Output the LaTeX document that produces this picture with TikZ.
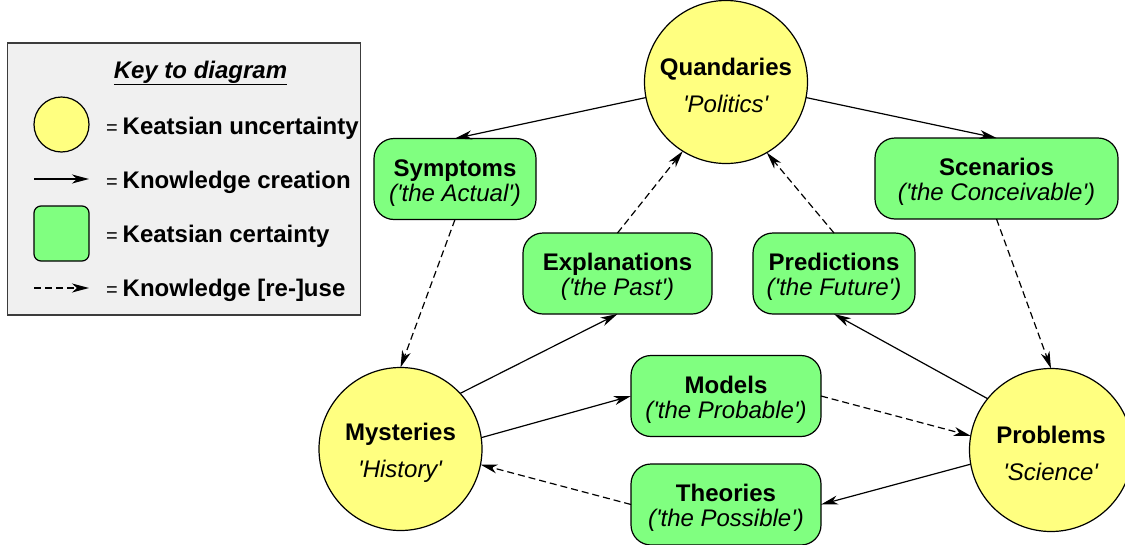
\documentclass[tikz,border=0pt]{standalone}
\usepackage{fontspec}
\setmainfont{Liberation Sans}[Ligatures=TeXOff]
\usetikzlibrary{arrows.meta}
\definecolor{qyellow}{RGB}{255,255,128}
\definecolor{qgreen}{RGB}{128,255,128}
\definecolor{keygray}{RGB}{240,240,240}
\definecolor{keyborder}{RGB}{60,60,60}
\newcommand\keyeq{{\fontsize{20}{20}\selectfont=}\hspace{5pt}}
\newcommand\circtext[2]{\rule{0pt}{25pt}\textbf{#1}\\[12pt]\textit{#2}}
\newcommand\boxtext[2]{\rule{0pt}{24pt}\textbf{#1}\\\textit{#2}}
\begin{document}
\begin{tikzpicture}[x=1pt,y=-1pt,
  every node/.style={inner sep=0pt, outer sep=0pt},
  big/.style={font=\fontsize{24}{25}\selectfont},
  uncert/.style={circle, draw, fill=qyellow, line width=1.2pt, minimum size=163pt, align=center, big},
  cert/.style={rounded corners=20pt, draw, fill=qgreen, line width=1.2pt, minimum height=81pt, align=center, big},
  create/.style={line width=1.2pt, -{Stealth[length=17pt,width=9pt,inset=5pt]}},
  reuse/.style={create, dash pattern=on 7pt off 4pt},
  keytext/.style={anchor=west, big},
]
\useasboundingbox (0,0) rectangle (1125,544);
% ---- key
\node[draw=keyborder, fill=keygray, line width=1.5pt, minimum width=353pt, minimum height=272pt] (key) at (184,179) {};
\node[big] (keytitle) at (200.5,73) {\textbf{\textit{\underline{Key to diagram}}}};
\node[circle, draw, fill=qyellow, line width=1.2pt, minimum size=55pt] (keycirc) at (61.5,124.5) {};
\coordinate (ka1) at (34,179);
\coordinate (ka2) at (89,179);
\draw[create] (ka1) -- (ka2);
\node[draw, fill=qgreen, line width=1.2pt, rounded corners=7pt, minimum size=55pt] (keybox) at (61.5,233.5) {};
\coordinate (kb1) at (34,288);
\coordinate (kb2) at (89,288);
\draw[reuse] (kb1) -- (kb2);
\node[keytext] (k1) at (106,128) {\keyeq\textbf{Keatsian uncertainty}};
\node[keytext] (k2) at (106,182) {\keyeq\textbf{Knowledge creation}};
\node[keytext] (k3) at (106,236) {\keyeq\textbf{Keatsian certainty}};
\node[keytext] (k4) at (106,290) {\keyeq\textbf{Knowledge [re-]use}};
% ---- circles
\node[uncert] (quand) at (726,82) {\circtext{Quandaries}{'Politics'}};
\node[uncert] (myst) at (400.5,449) {\circtext{Mysteries}{'History'}};
\node[uncert] (prob) at (1051,450) {\circtext{Problems}{'Science'}};
% ---- boxes
\node[cert, minimum width=162pt] (sympt) at (455,179) {\boxtext{Symptoms}{('the Actual')}};
\node[cert, minimum width=243pt] (scen) at (996.5,178.5) {\boxtext{Scenarios}{('the Conceivable')}};
\node[cert, minimum width=189pt] (expl) at (617.5,273.5) {\boxtext{Explanations}{('the Past')}};
\node[cert, minimum width=162pt] (pred) at (834,273.5) {\boxtext{Predictions}{('the Future')}};
\node[cert, minimum width=190pt] (models) at (726,396) {\boxtext{Models}{('the Probable')}};
\node[cert, minimum width=190pt] (theor) at (726,504.5) {\boxtext{Theories}{('the Possible')}};
% ---- connectors
\draw[create] (quand.191) -- (sympt.north);
\draw[create] (quand.-11) -- (scen.north);
\draw[reuse] (sympt.south) -- (myst.north);
\draw[reuse] (scen.south) -- (prob.north);
\draw[reuse] (expl.north) -- (quand.-122);
\draw[reuse] (pred.north) -- (quand.-60);
\draw[create] (myst.43) -- (expl.south);
\draw[create] (myst.8) -- (models.west);
\draw[reuse] (models.east) -- (prob.170);
\draw[create] (prob.141) -- (pred.south);
\draw[create] (prob.190) -- (theor.east);
\draw[reuse] (theor.west) -- (myst.-11);
\end{tikzpicture}
\end{document}
